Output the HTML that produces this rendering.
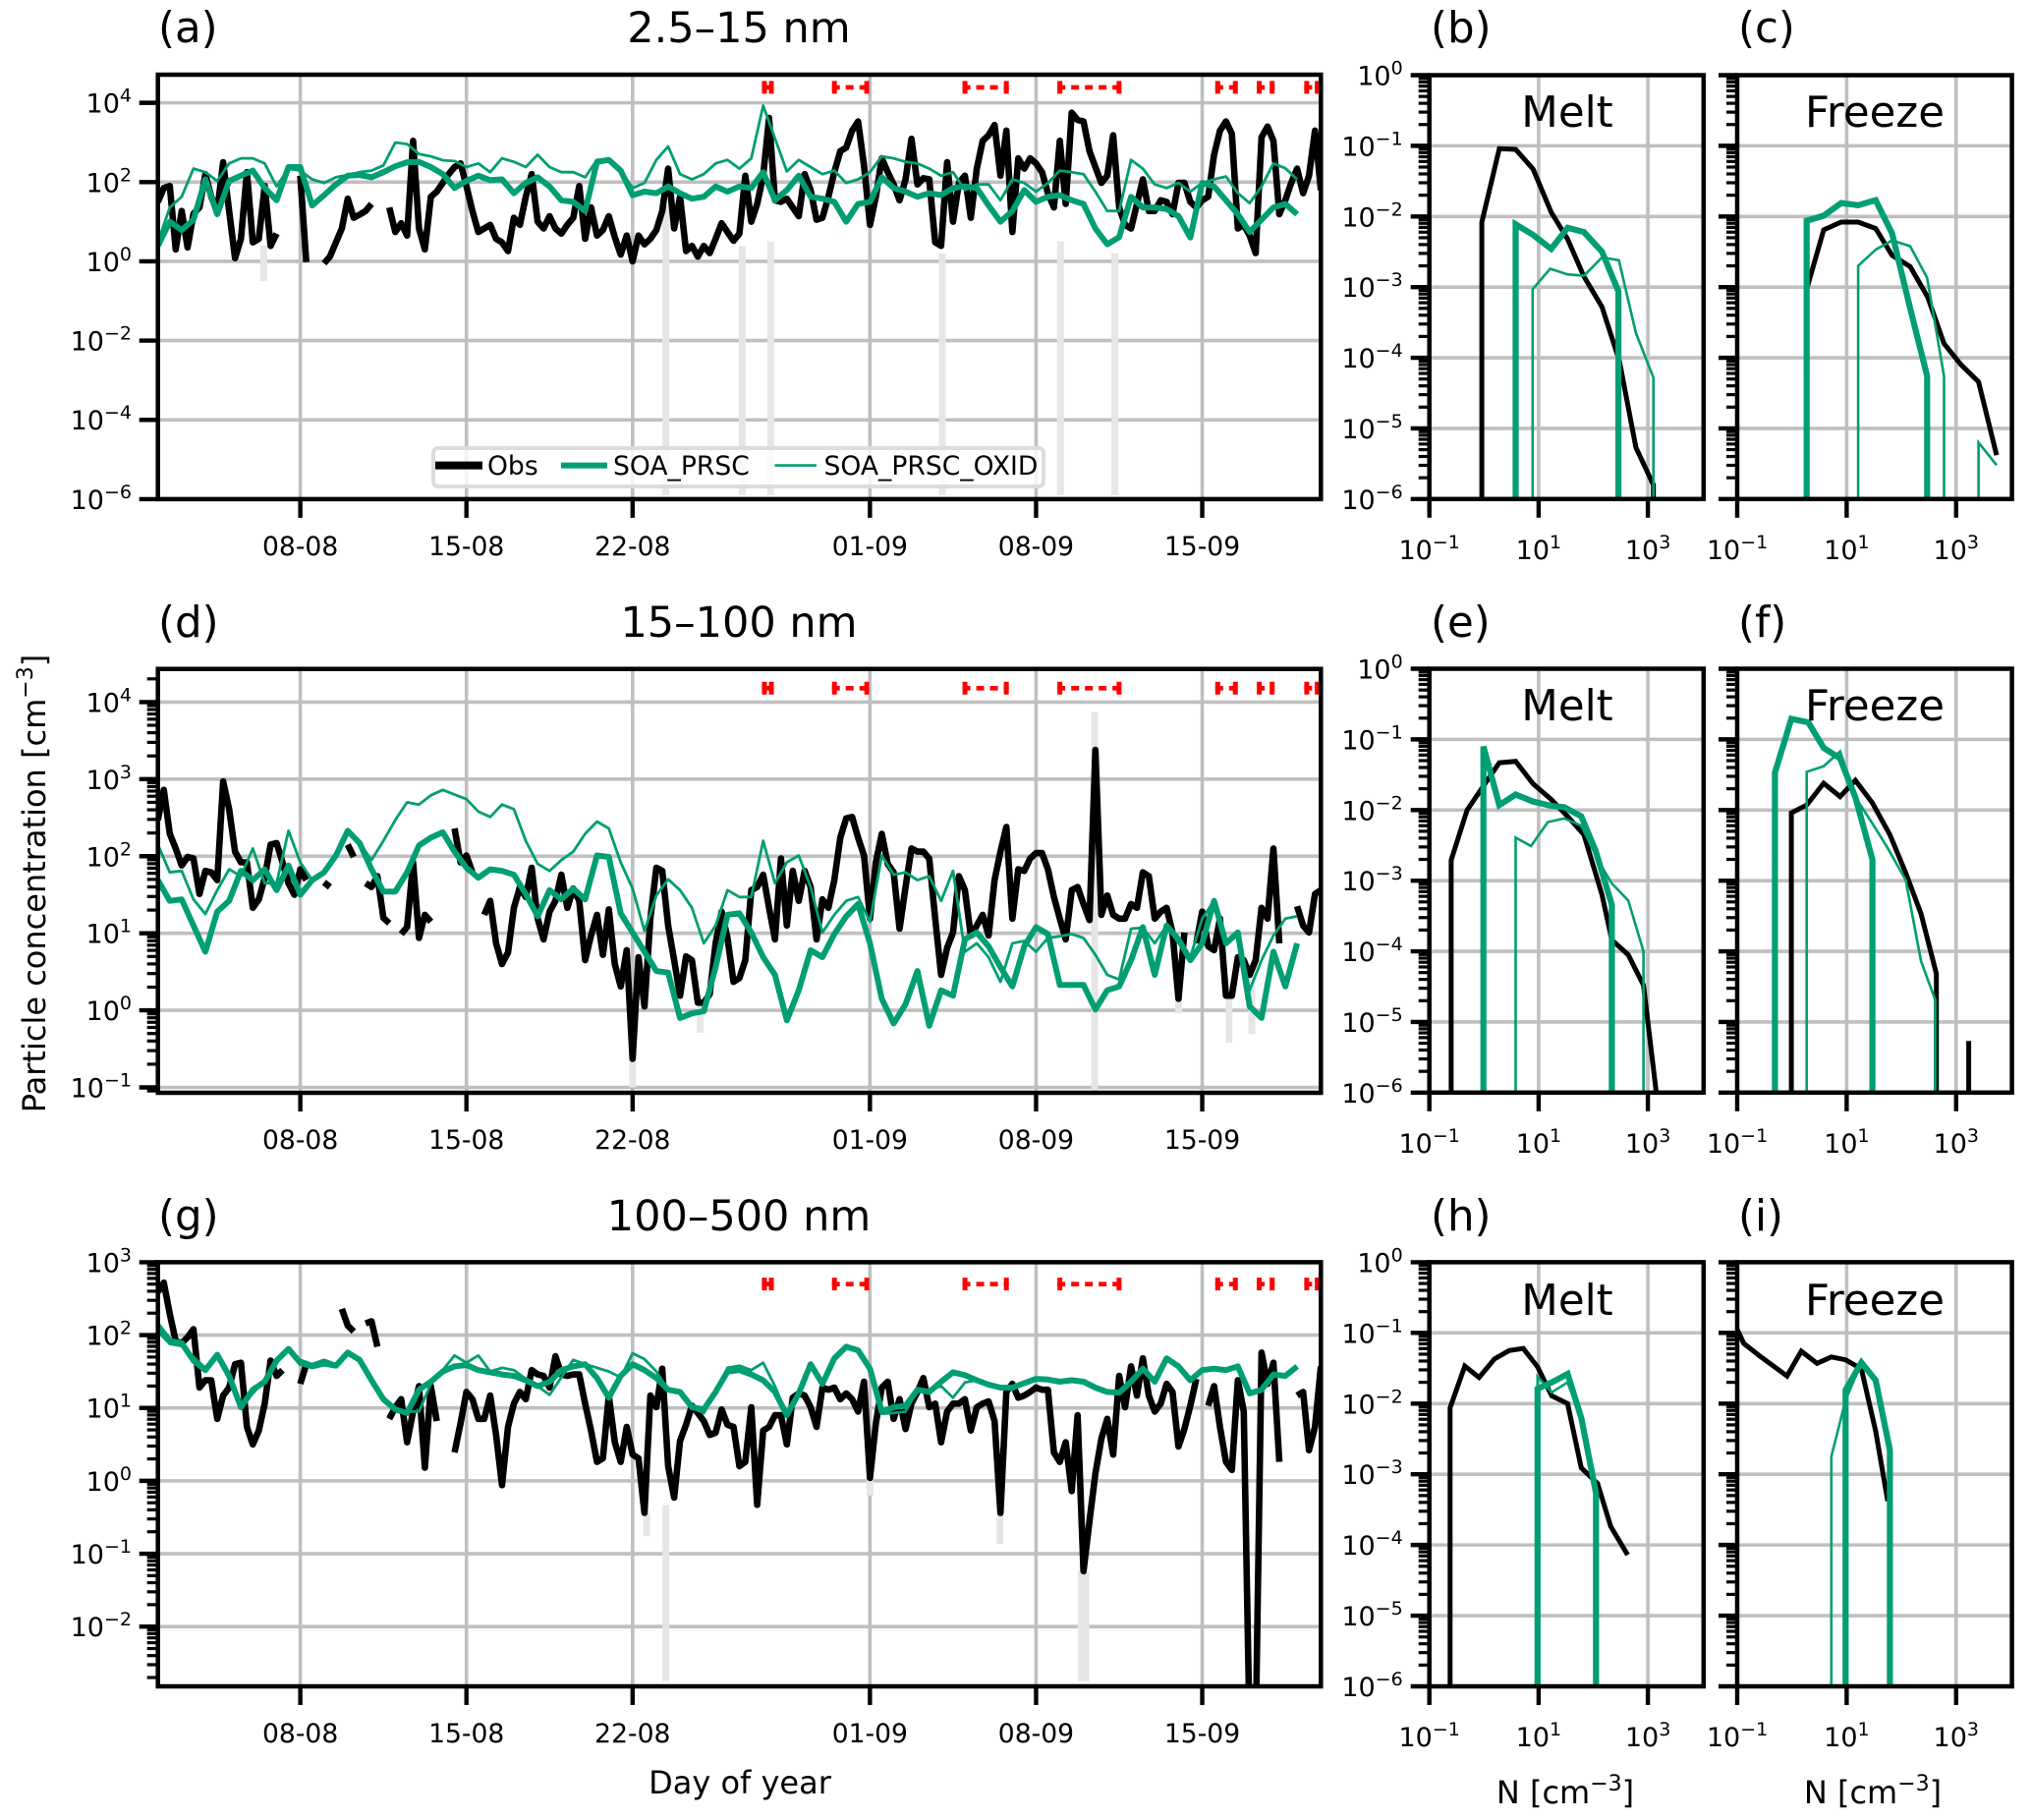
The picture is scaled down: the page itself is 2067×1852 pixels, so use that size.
<!DOCTYPE html>
<html lang="en">
<head>
<meta charset="utf-8">
<title>Particle concentration time series and distributions</title>
<style>
html,body{margin:0;padding:0;background:#fff}
svg{display:block}
text{font-family:"DejaVu Sans","Liberation Sans",sans-serif;fill:#000}
</style>
</head>
<body>
<svg id="figure" xmlns="http://www.w3.org/2000/svg" width="2067" height="1852" viewBox="0 0 2067 1852">
<rect x="0" y="0" width="2067" height="1852" fill="#fff"/>
<g id="plots"></g>

<g font-size="43.5">
<text x="161" y="43">(a)</text>
<text x="752" y="43" text-anchor="middle" font-size="43">2.5–15 nm</text>
<text x="1456" y="43">(b)</text>
<text x="1769" y="43">(c)</text>
<text x="161" y="648">(d)</text>
<text x="752" y="648" text-anchor="middle" font-size="43">15–100 nm</text>
<text x="1456" y="648">(e)</text>
<text x="1769" y="648">(f)</text>
<text x="161" y="1252">(g)</text>
<text x="752" y="1252" text-anchor="middle" font-size="43">100–500 nm</text>
<text x="1456" y="1252">(h)</text>
<text x="1769" y="1252">(i)</text>
<text x="1595" y="129" text-anchor="middle">Melt</text>
<text x="1908" y="129" text-anchor="middle">Freeze</text>
<text x="1595" y="733" text-anchor="middle">Melt</text>
<text x="1908" y="733" text-anchor="middle">Freeze</text>
<text x="1595" y="1338" text-anchor="middle">Melt</text>
<text x="1908" y="1338" text-anchor="middle">Freeze</text>
</g>

<text x="46" y="899" font-size="32" text-anchor="middle" transform="rotate(-90 46 899)">Particle concentration [cm<tspan font-size="22" dy="-13">−3</tspan><tspan dy="13">]</tspan></text>
<text x="753" y="1825" font-size="32" text-anchor="middle">Day of year</text>
<text x="1593" y="1835" font-size="32" text-anchor="middle">N [cm<tspan font-size="22" dy="-13">−3</tspan><tspan dy="13">]</tspan></text>
<text x="1906" y="1835" font-size="32" text-anchor="middle">N [cm<tspan font-size="22" dy="-13">−3</tspan><tspan dy="13">]</tspan></text>

<g>
<rect x="441" y="456" width="621" height="39" rx="5" fill="#fff" fill-opacity="0.8" stroke="#dcdcdc" stroke-width="4"/>
<line x1="443" y1="473.6" x2="491" y2="473.6" stroke="#000" stroke-width="8"/>
<text x="496" y="483" font-size="26.6">Obs</text>
<line x1="571" y1="473.6" x2="618" y2="473.6" stroke="#009E73" stroke-width="6"/>
<text x="624" y="483" font-size="26.6">SOA_PRSC</text>
<line x1="788.5" y1="473.6" x2="831" y2="473.6" stroke="#009E73" stroke-width="2.6"/>
<text x="838.5" y="483" font-size="26.6">SOA_PRSC_OXID</text>
</g>
</svg>

<script>
// ---------- shared axis data ----------
const dayTicks = [6, 13, 20, 30, 37, 44];
const dayTickLabels = ['08-08', '15-08', '22-08', '01-09', '08-09', '15-09'];
const obsStepDays = 0.25;
const modelStepDays = 0.5;
// Melt / freeze sampling intervals (days since 2 Aug)
const intervalStarts = [25.45, 28.4, 33.9, 37.9, 44.55, 46.3, 48.3];
const intervalEnds = [25.95, 29.97, 35.85, 40.6, 45.5, 47.05, 48.95];

// ---------- panel (a) 2.5-15 nm, log10 concentration ----------
const obsA = [
1.5,1.85,1.9,.3, 1.27,.35,1.2,1.36, 2.2,1.63,1.27,2.5, 1.27,.08,.57,2.25, .48,.57,1.9,.39,
.7,null,null,null, 2.16,-.02,null,null, -.05,.12,.48,.83, 1.58,1.1,1.18,1.27, 1.45,null,null,1.36,
.74,.96,.65,3.04, .83,.3,1.63,1.76, 1.98,2.2,2.38,2.47, 1.9,1.27,.74,.83, .92,.57,.48,.26,
1.1,.92,1.63,2.2, 1.0,.83,1.14,.83, .7,.92,1.1,1.9, .57,1.36,.65,.79, 1.14,.61,.17,.65,
0,.65,.43,.57, .79,1.27,2.34,.83, 1.63,.26,.39,.12, .39,.21,.57,.96, .74,.52,.7,2.16,
1.0,1.45,2.16,3.62, 1.54,1.5,1.58,1.36, 1.14,2.2,1.8,1.05, 1.1,1.63,2.25,2.78, 2.87,3.3,3.53,2.42,
.92,1.63,2.6,2.25, 1.94,1.54,2.07,3.09, 1.94,2.1,2.07,.48, .39,2.5,1.0,1.98, 2.16,1.1,2.34,3.04,
3.18,3.44,2.16,3.3, .74,2.6,2.34,2.6, 2.47,2.25,1.72,1.36, 3.04,1.45,3.75,3.57, 3.53,2.78,2.38,1.98,
2.16,3.18,1.36,.92, .83,1.45,2.07,1.27, 1.27,1.54,1.5,1.19, 1.98,1.98,1.5,1.36, 1.54,1.63,2.69,3.3,
3.53,3.22,.83,.92, .65,.21,3.13,3.4, 3.04,1.19,1.54,1.98, 2.34,1.72,2.16,3.3, 1.8];
const prscA = [
.39,1.0,.79,1.05,2.07,1.19,2.03,2.16,2.29,1.85,1.54,2.38,2.38,1.41,1.67,1.94,2.16,2.18,2.12,2.25,
2.4,2.5,2.51,2.38,2.2,1.85,2.03,2.16,2.05,2.07,1.72,1.98,2.12,1.89,1.54,1.5,1.27,2.51,2.56,2.29,
1.67,1.76,1.72,1.89,1.72,1.58,1.63,1.89,1.76,1.89,1.85,2.25,1.54,1.8,2.16,1.63,1.58,1.5,1.0,1.45,
1.5,2.12,1.85,1.76,1.63,1.72,1.67,1.85,1.89,1.85,1.41,1.0,1.27,1.8,1.5,1.63,1.67,1.54,1.45,.83,
.43,.61,1.63,1.36,1.36,1.32,1.14,.6,1.98,1.89,1.54,1.19,.74,1.05,1.36,1.45,1.19];
const oxidA = [
.48,1.36,1.63,2.34,2.25,2.03,2.47,2.6,2.6,2.47,1.89,2.34,2.29,2.07,1.98,2.12,2.18,2.25,2.29,2.42,
3.0,2.96,2.71,2.65,2.55,2.53,2.38,2.47,2.25,2.6,2.51,2.38,2.69,2.38,2.25,2.25,2.12,2.56,2.56,2.29,
1.85,1.98,2.56,2.9,2.2,2.07,2.2,2.47,2.56,2.34,2.6,3.93,3.1,2.27,2.56,2.38,2.2,2.29,1.98,2.07,
2.25,2.65,2.6,2.51,2.47,2.34,2.16,2.25,1.8,1.94,1.94,1.54,2.07,1.98,1.76,1.98,2.29,2.25,2.2,1.76,
1.27,1.27,2.56,2.34,1.94,1.85,1.98,1.76,1.98,2.07,2.14,1.72,1.47,1.89,2.47,2.35,2.07];
const stripDaysA = [4.46, 21.4, 24.62, 25.82, 33.05, 38.03, 40.32];
const stripHighA = [.4, 1.4, .39, .5, .2, .5, .2];
const stripLowA = [-.5, -5.9, -5.9, -5.9, -5.9, -5.9, -5.9];

// ---------- panel (d) 15-100 nm, log10 concentration ----------
const obsD = [
2.47,2.86,2.29,2.1, 1.88,1.99,1.97,1.51, 1.81,1.79,1.69,2.97, 2.61,2.06,1.92,1.92, 1.33,1.44,1.72,2.15,
2.17,1.92,1.65,1.5, 1.83,1.69,null,null, 1.66,1.6,null,null, 2.15,1.99,null,1.65, 1.6,1.74,1.2,1.13,
null,.99,1.08,1.92, .94,1.24,1.15,null, null,null,2.36,1.92, 2.01,1.79,null,1.24, 1.42,.87,.6,.75,
1.33,1.6,1.47,1.85, 1.19,.92,1.28,1.42, 1.76,1.33,1.58,1.42, .65,.97,1.24,.72, 1.31,.6,.31,.78,
-.63,.69,.05,1.19, 1.85,1.81,1.1,.65, .19,.7,.65,.1, .1,.21,.87,1.28, .94,.37,.42,.65,
1.56,1.6,1.76,1.33, .92,1.97,1.1,1.81, 1.42,1.81,1.6,.92, 1.44,1.33,1.69,2.24, 2.49,2.51,2.24,2.01,
1.19,1.92,2.29,1.9, 1.79,1.06,1.6,2.1, 2.06,2.06,1.97,1.19, .46,.81,1.01,1.74, 1.56,.97,1.1,1.24,
.97,1.69,2.06,2.38, 1.19,1.83,1.81,1.97, 2.04,2.04,1.83,1.47, 1.19,.92,1.56,1.6, 1.38,1.17,3.38,1.24,
1.49,1.24,1.19,1.19, 1.38,1.33,1.79,1.74, 1.19,1.28,1.33,1.01, .15,1.01,null,.87, 1.28,.83,.78,1.19,
.19,.19,.69,.65, .46,.65,1.33,1.19, 2.1,.87,null,null, 1.35,1.1,1.01,1.51, 1.56];
const prscD = [
1.69,1.42,1.44,1.1,.76,1.28,1.42,1.81,1.69,1.83,1.56,1.88,1.5,1.69,1.79,2.01,2.33,2.17,1.83,1.54,
1.54,1.79,2.14,2.24,2.31,2.06,1.85,1.72,1.83,1.81,1.76,1.51,1.22,1.56,1.44,1.58,1.44,2.01,1.99,1.26,
1.01,.76,.51,.49,-.1,-.04,-.01,.56,1.24,1.26,1.01,.69,.46,-.13,.26,.78,.69,.99,1.22,1.38,
.87,.15,-.17,.08,.51,-.2,.26,.19,.92,1.01,.83,.56,.31,.83,1.08,.99,.33,.33,.33,.01,
.26,.31,.65,1.08,.46,1.1,.92,.65,.87,1.42,.87,1.01,.05,-.1,.76,.31,.87];
const oxidD = [
2.15,1.79,1.81,1.44,1.25,1.56,1.83,1.74,2.1,1.65,1.65,2.33,1.92,1.69,1.79,2.01,2.33,2.17,1.95,2.2,
2.47,2.7,2.67,2.79,2.86,2.8,2.74,2.58,2.51,2.67,2.61,2.2,1.9,1.81,1.95,2.06,2.29,2.45,2.36,1.92,
1.58,1.03,1.49,1.7,1.56,1.33,.87,1.1,1.56,1.47,1.47,2.2,1.65,1.92,2.01,1.6,1.01,1.24,1.42,1.47,
1.15,2.01,1.76,1.79,1.69,1.74,1.42,1.81,.76,.87,.69,.37,.87,.9,.76,.94,.96,.99,.94,.72,
.46,.4,1.06,1.07,.87,1.1,.87,.69,1.19,1.42,.87,.99,.26,.65,.97,1.19,1.22];
const stripDaysD = [39.47, 20, 22.85, 45.13, 46.09, 43.0];
const stripHighD = [3.87, -.63, .1, .19, .46, .15];
const stripLowD = [-1.06, -1.0, -.29, -.42, -.31, -.04];

// ---------- panel (g) 100-500 nm, log10 concentration ----------
const obsG = [
2.59,2.72,2.29,1.92, 1.89,1.97,2.08,1.28, 1.38,1.38,.85,1.17, 1.28,1.6,1.62,.74, .5,.69,1.06,1.65,
1.44,1.52,null,null, 1.33,1.6,null,null, null,null,null,2.36, 2.13,2.05,null,2.16, 2.19,1.84,null,.85,
1.01,1.12,.53,.95, 1.3,.18,1.3,.82, null,null,.39,.79, 1.22,1.12,.85,.85, 1.17,.63,-.06,.74,
1.06,1.22,1.12,1.52, 1.46,1.44,1.28,1.71, 1.46,1.44,1.46,1.46, 1.06,.69,.26,.31, 1.17,.53,.26,.74,
.36,.31,-.44,1.17, 1.01,1.54,.2,-.23, .55,.77,1.03,.93, .82,.63,.66,.98, .77,.74,.2,.26,
1.01,-.33,.69,.74, .9,.9,.5,1.14, 1.2,1.17,1.01,.74, 1.28,1.25,1.28,1.12, 1.2,1.12,.95,1.36,
.04,.79,1.28,1.36, .85,1.12,.71,1.06, 1.22,1.41,1.01,1.06, .53,.95,1.06,1.06, 1.12,.69,1.01,1.06,
1.09,.82,-.44,1.22, 1.33,1.14,1.17,1.22, 1.28,1.25,1.25,.39, .26,.53,-.14,.9, -1.24,-.55,.1,.58,
.85,.36,1.44,1.01, 1.57,1.17,1.68,1.17, .95,1.06,1.33,1.22, .47,.71,1.03,1.4, null,1.03,1.3,.74,
.26,.15,1.38,.95, -3.5,-3.5,1.76,1.33, 1.62,.26,null,null, 1.17,1.22,.42,.74, 1.57];
const prscG = [
2.13,1.92,1.89,1.65,1.52,1.73,1.44,1.01,1.25,1.36,1.65,1.81,1.62,1.57,1.61,1.58,1.76,1.66,1.38,1.12,
.98,.93,1.25,1.36,1.5,1.57,1.59,1.52,1.49,1.46,1.44,1.38,1.3,1.36,1.52,1.57,1.6,1.41,1.14,1.44,
1.6,1.52,1.41,1.25,1.22,1.01,.98,1.22,1.5,1.52,1.46,1.38,1.22,.9,1.2,1.6,1.33,1.68,1.84,1.79,
1.54,.95,1.01,1.03,1.25,1.22,1.36,1.49,1.45,1.38,1.32,1.28,1.28,1.34,1.4,1.39,1.36,1.38,1.36,1.28,
1.22,1.21,1.36,1.54,1.36,1.68,1.57,1.38,1.52,1.54,1.52,1.57,1.2,1.25,1.46,1.44,1.57];
const oxidG = [
2.05,1.88,1.85,1.7,1.55,1.73,1.44,1.0,1.2,1.38,1.67,1.81,1.66,1.6,1.66,1.6,1.74,1.66,1.38,1.12,
1.0,.95,.95,1.33,1.52,1.72,1.62,1.72,1.5,1.55,1.52,1.4,1.3,1.18,1.42,1.66,1.6,1.55,1.5,1.42,
1.75,1.67,1.5,1.25,1.22,1.0,.93,1.22,1.55,1.58,1.52,1.62,1.3,.9,1.2,1.6,1.33,1.68,1.84,1.79,
1.54,.92,.93,.95,1.25,1.25,1.3,1.14,1.35,1.38,1.32,1.28,1.25,1.34,1.4,1.39,1.36,1.38,1.36,1.28,
1.22,1.21,1.38,1.56,1.36,1.66,1.55,1.38,1.52,1.54,1.52,1.57,1.2,1.25,1.46,1.44,1.57];
const stripDaysG = [21.4, 20.6, 35.48, 38.9, 39.1, 30];
const stripHighG = [-.33, -.44, -.44, -1.24, -1.24, .04];
const stripLowG = [-2.75, -.76, -.87, -2.75, -2.75, -.2];

// ---------- distribution panels: log10 N (x) and log10 probability (y) ----------
const obsBx = [-.04,-.04,.28,.58,.9,1.23,1.53,1.83,2.16,2.48,2.78,3.1,3.1];
const obsBy = [-6.1,-2.08,-1.04,-1.05,-1.33,-1.94,-2.32,-2.85,-3.28,-4.05,-5.27,-5.8,-6.1];
const prscBx = [.58,.58,.9,1.23,1.53,1.83,2.16,2.46,2.46];
const prscBy = [-6.1,-2.11,-2.26,-2.46,-2.16,-2.22,-2.5,-3.06,-6.1];
const oxidBx = [.89,.89,1.21,1.53,1.83,2.16,2.47,2.78,3.1,3.1];
const oxidBy = [-6.1,-3.03,-2.74,-2.82,-2.84,-2.58,-2.62,-3.65,-4.28,-6.1];

const obsCx = [.27,.27,.58,.9,1.21,1.53,1.83,2.16,2.48,2.78,3.09,3.41,3.74];
const obsCy = [-6.1,-3.03,-2.19,-2.08,-2.08,-2.17,-2.55,-2.71,-3.14,-3.8,-4.1,-4.34,-5.38];
const prscCx = [.27,.27,.58,.9,1.21,1.53,1.83,2.16,2.47,2.47];
const prscCy = [-6.1,-2.06,-1.99,-1.81,-1.84,-1.77,-2.24,-3.3,-4.26,-6.1];
const oxidCx = [1.21,1.21,1.53,1.83,2.16,2.47,2.78,2.78,null,3.41,3.41,3.74];
const oxidCy = [-6.1,-2.7,-2.47,-2.34,-2.42,-2.87,-4.26,-6.1,null,-6.1,-5.2,-5.52];

const obsEx = [-.6,-.6,-.31,-.01,.28,.58,.9,1.23,1.53,1.83,2.16,2.34,2.64,2.92,3.17];
const obsEy = [-6.1,-2.71,-2.0,-1.66,-1.33,-1.31,-1.63,-1.85,-2.09,-2.35,-3.2,-3.84,-4.05,-4.48,-6.1];
const prscEx = [-.01,-.01,.28,.58,.9,1.23,1.47,1.78,2.04,2.34,2.34];
const prscEy = [-6.1,-1.1,-1.93,-1.78,-1.88,-1.94,-1.96,-2.09,-2.57,-3.34,-6.1];
const oxidEx = [.58,.58,.86,1.17,1.47,1.78,2.08,2.34,2.64,2.92,2.92];
const oxidEy = [-6.1,-2.39,-2.51,-2.17,-2.12,-2.22,-2.7,-3.04,-3.28,-4.0,-6.1];

const obsFx = [-.01,-.01,.27,.58,.88,1.16,1.47,1.79,2.08,2.36,2.64,2.64,null,3.23,3.23];
const obsFy = [-6.1,-2.04,-1.93,-1.62,-1.81,-1.58,-1.9,-2.35,-2.89,-3.47,-4.32,-6.1,null,-6.1,-5.27];
const prscFx = [-.31,-.31,-.01,.3,.58,.88,1.16,1.47,1.47];
const prscFy = [-6.1,-1.47,-.71,-.76,-1.12,-1.27,-1.82,-2.7,-6.1];
const oxidFx = [.27,.27,.58,.88,1.16,1.47,1.75,2.08,2.36,2.62,2.62];
const oxidFy = [-6.1,-1.46,-1.38,-1.17,-1.82,-2.19,-2.54,-2.99,-4.14,-4.69,-6.1];

const obsHx = [-.62,-.62,-.35,-.09,.19,.46,.72,.98,1.24,1.53,1.78,2.08,2.32,2.63];
const obsHy = [-6.1,-2.06,-1.47,-1.63,-1.37,-1.25,-1.22,-1.48,-1.89,-2.0,-2.91,-3.13,-3.74,-4.14];
const prscHx = [.98,.98,1.24,1.53,1.78,2.05,2.05];
const prscHy = [-6.1,-1.79,-1.7,-1.58,-2.2,-3.27,-6.1];
const oxidHx = [.98,.98,1.24,1.53,1.78,2.05,2.05];
const oxidHy = [-6.1,-1.62,-1.84,-1.7,-2.22,-3.3,-6.1];

const obsIx = [-1,-.88,-.6,-.09,.17,.46,.72,.98,1.27,1.53,1.75];
const obsIy = [-.95,-1.15,-1.32,-1.61,-1.26,-1.43,-1.34,-1.38,-1.51,-2.39,-3.38];
const prscIx = [.98,.98,1.27,1.53,1.79,1.79];
const prscIy = [-6.1,-1.81,-1.42,-1.67,-2.66,-6.1];
const oxidIx = [.72,.72,.98,1.27,1.53,1.79,1.79];
const oxidIy = [-6.1,-2.75,-1.95,-1.42,-1.7,-2.69,-6.1];

const distYTicks = [0, -1, -2, -3, -4, -5, -6];
const distXTicks = [-1, 1, 3];
const timeTicksA = [4, 2, 0, -2, -4, -6];
const timeTicksD = [4, 3, 2, 1, 0, -1];
const timeTicksG = [3, 2, 1, 0, -1, -2];

// ---------- drawing ----------
const SVGNS = 'http://www.w3.org/2000/svg';
const GREEN = '#009E73';
const GRID = '#bfbfbf';
const root = document.getElementById('plots');

function make(tag, parent, name, attrs) {
  const el = document.createElementNS(SVGNS, tag);
  
  
  for (const k in attrs) el.setAttribute(k, attrs[k]);
  parent.appendChild(el);
  return el;
}
function expText(v) { return v < 0 ? '\u2212' + Math.abs(v) : String(v); }
function powerLabel(parent, name, x, y, anchor, exponent) {
  const t = make('text', parent, name, {x: x, y: y, 'text-anchor': anchor, 'font-size': 27});
  t.appendChild(document.createTextNode('10'));
  const s = document.createElementNS(SVGNS, 'tspan');
  s.setAttribute('font-size', '19');
  s.setAttribute('dy', '-11');
  s.textContent = expText(exponent);
  t.appendChild(s);
  return t;
}
function pathFrom(xs, ys, sx, sy) {
  let d = '', pen = false;
  for (let i = 0; i < ys.length; i++) {
    if (ys[i] === null || xs[i] === null) { pen = false; continue; }
    d += (pen ? 'L' : 'M') + sx(xs[i]).toFixed(1) + ' ' + sy(ys[i]).toFixed(1);
    pen = true;
  }
  return d;
}
function seq(n, step) { const a = []; for (let i = 0; i < n; i++) a.push(i * step); return a; }

function frame(g, p, sx, sy) {
  const cp = make('clipPath', g, 'clip-' + p.id, {id: 'clip-' + p.id});
  make('rect', cp, 'clip-rect-' + p.id, {x: p.left, y: p.top, width: p.right - p.left, height: p.bottom - p.top});
  const grid = make('g', g, 'grid-' + p.id, {stroke: GRID, 'stroke-width': 3.6});
  p.yTicks.forEach(v => make('line', grid, 'grid-y-' + p.id, {x1: p.left, x2: p.right, y1: sy(v), y2: sy(v)}));
  p.xTicks.forEach(v => make('line', grid, 'grid-x-' + p.id, {x1: sx(v), x2: sx(v), y1: p.top, y2: p.bottom}));
}
function axes(g, p, sx, sy, xLabelFn) {
  const ax = make('g', g, 'axes-' + p.id, {stroke: '#000'});
  make('rect', ax, 'spines-' + p.id, {x: p.left, y: p.top, width: p.right - p.left, height: p.bottom - p.top, fill: 'none', 'stroke-width': 4.5});
  p.yTicks.forEach(v => {
    make('line', ax, 'y-tick-' + p.id, {x1: p.left - 19, x2: p.left, y1: sy(v), y2: sy(v), 'stroke-width': 4.4});
    if (!p.hideYLabels) {
      powerLabel(g, 'y-tick-label-' + p.id, p.left - p.yLabelGap, sy(v) + 10, 'end', v).setAttribute('stroke', 'none');
    }
  });
  if (p.minor) {
    for (let dec = Math.floor(p.yMin) - 1; dec < Math.ceil(p.yMax); dec++) {
      for (let k = 2; k < 10; k++) {
        const v = dec + Math.log10(k);
        if (v < p.yMin || v > p.yMax) continue;
        make('line', ax, 'y-minor-tick-' + p.id, {x1: p.left - 11, x2: p.left, y1: sy(v), y2: sy(v), 'stroke-width': 3.2});
      }
    }
  }
  p.xTicks.forEach((v, i) => {
    make('line', ax, 'x-tick-' + p.id, {x1: sx(v), x2: sx(v), y1: p.bottom, y2: p.bottom + 19, 'stroke-width': 4.4});
    xLabelFn(v, i);
  });
}

function timePanel(p) {
  const g = make('g', root, 'panel-' + p.id, {});
  p.left = 160.7; p.right = 1344.3; p.xTicks = dayTicks; p.yLabelGap = 26.7; p.minor = p.minor || false;
  const sx = d => p.left + d / 49 * (p.right - p.left);
  const sy = v => p.bottom - (v - p.yMin) / (p.yMax - p.yMin) * (p.bottom - p.top);
  frame(g, p, sx, sy);
  const data = make('g', g, 'series-' + p.id, {'clip-path': 'url(#clip-' + p.id + ')', fill: 'none', 'stroke-linejoin': 'round'});
  p.stripDays.forEach((d, i) => {
    make('line', data, 'obs-range-' + p.id, {x1: sx(d), x2: sx(d), y1: sy(p.stripHigh[i]), y2: sy(p.stripLow[i]), stroke: '#e6e6e6', 'stroke-width': 7});
  });
  make('path', data, 'obs-line-' + p.id, {d: pathFrom(seq(p.obs.length, obsStepDays), p.obs, sx, sy), stroke: '#000', 'stroke-width': 6.6});
  make('path', data, 'soa-prsc-oxid-line-' + p.id, {d: pathFrom(seq(p.oxid.length, modelStepDays), p.oxid, sx, sy), stroke: GREEN, 'stroke-width': 2.8});
  make('path', data, 'soa-prsc-line-' + p.id, {d: pathFrom(seq(p.prsc.length, modelStepDays), p.prsc, sx, sy), stroke: GREEN, 'stroke-width': 6});
  intervalStarts.forEach((s, i) => {
    const e = intervalEnds[i], y = sy(p.intervalLevel);
    const iv = make('g', data, 'event-interval-' + p.id, {stroke: '#f00'});
    make('line', iv, 'event-interval-dash', {x1: sx(s), x2: sx(e), y1: y, y2: y, 'stroke-width': 4.6, 'stroke-dasharray': '8 6'});
    make('line', iv, 'event-interval-start', {x1: sx(s) + 2.5, x2: sx(s) + 2.5, y1: y - 6.5, y2: y + 6.5, 'stroke-width': 5});
    make('line', iv, 'event-interval-end', {x1: sx(e) - 2.5, x2: sx(e) - 2.5, y1: y - 6.5, y2: y + 6.5, 'stroke-width': 5});
  });
  axes(g, p, sx, sy, (v, i) => {
    make('text', g, 'x-tick-label-' + p.id, {x: sx(v), y: p.bottom + 57, 'text-anchor': 'middle', 'font-size': 26.6, stroke: 'none'}).textContent = dayTickLabels[i];
  });
}

function distPanel(p) {
  const g = make('g', root, 'panel-' + p.id, {});
  p.xTicks = distXTicks; p.yTicks = distYTicks; p.yMin = -6; p.yMax = 0; p.minor = true; p.yLabelGap = 27;
  const sx = v => p.left + (v + 1) / 5.02 * (p.right - p.left);
  const sy = v => p.bottom - (v - p.yMin) / (p.yMax - p.yMin) * (p.bottom - p.top);
  frame(g, p, sx, sy);
  const data = make('g', g, 'series-' + p.id, {'clip-path': 'url(#clip-' + p.id + ')', fill: 'none', 'stroke-linejoin': 'miter'});
  make('path', data, 'obs-distribution-' + p.id, {d: pathFrom(p.obsX, p.obsY, sx, sy), stroke: '#000', 'stroke-width': 5});
  make('path', data, 'soa-prsc-oxid-distribution-' + p.id, {d: pathFrom(p.oxidX, p.oxidY, sx, sy), stroke: GREEN, 'stroke-width': 2.6});
  make('path', data, 'soa-prsc-distribution-' + p.id, {d: pathFrom(p.prscX, p.prscY, sx, sy), stroke: GREEN, 'stroke-width': 6.2});
  axes(g, p, sx, sy, v => {
    powerLabel(g, 'x-tick-label-' + p.id, sx(v), p.bottom + 61, 'middle', v).setAttribute('stroke', 'none');
  });
}

timePanel({id: 'a', top: 76, bottom: 507.9, yMin: -6, yMax: 4.71, yTicks: timeTicksA, obs: obsA, prsc: prscA, oxid: oxidA, stripDays: stripDaysA, stripHigh: stripHighA, stripLow: stripLowA, intervalLevel: 4.39});
timePanel({id: 'd', top: 680.7, bottom: 1112, yMin: -1.07, yMax: 4.43, yTicks: timeTicksD, minor: true, obs: obsD, prsc: prscD, oxid: oxidD, stripDays: stripDaysD, stripHigh: stripHighD, stripLow: stripLowD, intervalLevel: 4.18});
timePanel({id: 'g', top: 1284.4, bottom: 1716, yMin: -2.82, yMax: 3, yTicks: timeTicksG, minor: true, obs: obsG, prsc: prscG, oxid: oxidG, stripDays: stripDaysG, stripHigh: stripHighG, stripLow: stripLowG, intervalLevel: 2.7});

const leftDist = {left: 1454.7, right: 1733.8};
const rightDist = {left: 1768, right: 2047.6, hideYLabels: true};
distPanel({id: 'b', ...leftDist, top: 76.5, bottom: 507.8, obsX: obsBx, obsY: obsBy, prscX: prscBx, prscY: prscBy, oxidX: oxidBx, oxidY: oxidBy});
distPanel({id: 'c', ...rightDist, top: 76.5, bottom: 507.8, obsX: obsCx, obsY: obsCy, prscX: prscCx, prscY: prscCy, oxidX: oxidCx, oxidY: oxidCy});
distPanel({id: 'e', ...leftDist, top: 680.5, bottom: 1111.8, obsX: obsEx, obsY: obsEy, prscX: prscEx, prscY: prscEy, oxidX: oxidEx, oxidY: oxidEy});
distPanel({id: 'f', ...rightDist, top: 680.5, bottom: 1111.8, obsX: obsFx, obsY: obsFy, prscX: prscFx, prscY: prscFy, oxidX: oxidFx, oxidY: oxidFy});
distPanel({id: 'h', ...leftDist, top: 1284.4, bottom: 1716, obsX: obsHx, obsY: obsHy, prscX: prscHx, prscY: prscHy, oxidX: oxidHx, oxidY: oxidHy});
distPanel({id: 'i', ...rightDist, top: 1284.4, bottom: 1716, obsX: obsIx, obsY: obsIy, prscX: prscIx, prscY: prscIy, oxidX: oxidIx, oxidY: oxidIy});
</script>
</body>
</html>
